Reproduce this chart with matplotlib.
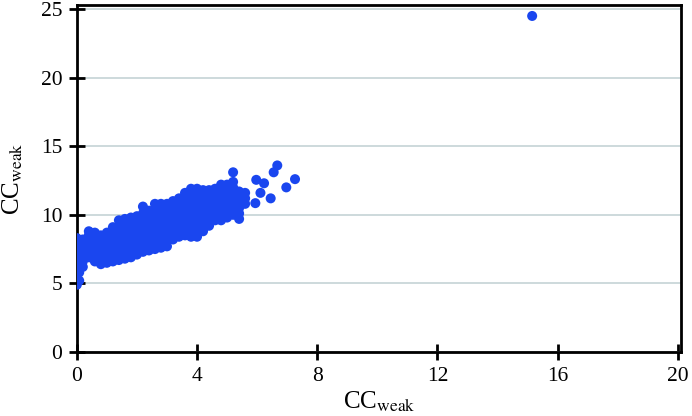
import matplotlib
matplotlib.use("Agg")
import matplotlib.pyplot as plt

# column x positions and the y values read in each column of the dense cloud
col_x = [0.0, 0.08, 0.2, 0.4, 0.6, 0.8, 1.0, 1.2, 1.4, 1.6, 1.8, 2.0, 2.2, 2.4, 2.6,
         2.8, 3.0, 3.2, 3.4, 3.6, 3.8, 4.0, 4.2, 4.4, 4.6, 4.8, 5.0, 5.2, 5.4, 5.6]
col_y = [
    [4.9, 5.3, 5.7, 6.1, 6.5, 6.9, 7.3, 7.7, 8.1, 8.3],
    [5.2, 5.8, 6.3, 6.8, 7.2, 7.6, 8.0],
    [6.2, 6.6, 7.0, 7.4, 7.8, 8.2],
    [6.9, 7.3, 7.7, 8.1, 8.5, 8.8],
    [6.6, 7.0, 7.4, 7.8, 8.2, 8.7],
    [6.4, 6.8, 7.2, 7.6, 8.0, 8.5],
    [6.5, 6.9, 7.3, 7.7, 8.1, 8.5, 8.7],
    [6.6, 7.0, 7.4, 7.8, 8.2, 8.6, 9.1],
    [6.7, 7.1, 7.5, 7.9, 8.3, 8.7, 9.1, 9.6],
    [6.8, 7.2, 7.6, 8.0, 8.4, 8.8, 9.2, 9.7],
    [6.9, 7.3, 7.7, 8.1, 8.5, 8.9, 9.3, 9.8],
    [7.1, 7.5, 7.9, 8.3, 8.7, 9.1, 9.5, 9.9],
    [7.3, 7.7, 8.1, 8.5, 8.9, 9.3, 9.7, 10.1, 10.6],
    [7.4, 7.8, 8.2, 8.6, 9.0, 9.4, 9.8, 10.3],
    [7.5, 7.9, 8.3, 8.7, 9.1, 9.5, 9.9, 10.3, 10.8],
    [7.6, 8.0, 8.4, 8.8, 9.2, 9.6, 10.0, 10.4, 10.8],
    [7.7, 8.1, 8.5, 8.9, 9.3, 9.7, 10.1, 10.5, 10.8],
    [8.2, 8.6, 9.0, 9.4, 9.8, 10.2, 10.6, 11.0],
    [8.4, 8.8, 9.2, 9.6, 10.0, 10.4, 10.8, 11.2],
    [8.5, 8.9, 9.3, 9.7, 10.1, 10.5, 10.9, 11.3, 11.6],
    [8.4, 8.8, 9.2, 9.6, 10.0, 10.4, 10.8, 11.2, 11.6, 11.9],
    [8.4, 8.8, 9.2, 9.6, 10.0, 10.4, 10.8, 11.2, 11.6, 11.9],
    [8.8, 9.2, 9.6, 10.0, 10.4, 10.8, 11.2, 11.6, 11.8],
    [9.2, 9.6, 10.0, 10.4, 10.8, 11.2, 11.6, 11.8],
    [9.6, 10.0, 10.4, 10.8, 11.2, 11.6, 11.9],
    [9.6, 10.0, 10.4, 10.8, 11.2, 11.6, 12.0, 12.2],
    [9.8, 10.2, 10.6, 11.0, 11.4, 11.8, 12.2],
    [10.0, 10.4, 10.8, 11.2, 11.6, 12.0, 12.4, 13.1],
    [9.7, 10.1, 10.5, 10.9, 11.3, 11.7],
    [10.8, 11.2, 11.6],
]

# scattered points away from the cloud
out_x = [5.97, 6.23, 6.11, 6.45, 5.94, 6.55, 6.67, 6.97, 7.26, 15.15]
out_y = [12.55, 12.3, 11.6, 11.2, 10.85, 13.1, 13.6, 12.0, 12.6, 24.5]

xs, ys = [], []
for x, col in zip(col_x, col_y):
    for y in col:
        xs.append(x)
        ys.append(y)
xs += out_x
ys += out_y

plt.rcParams['font.family'] = ['Liberation Serif', 'DejaVu Serif']
plt.rcParams['mathtext.fontset'] = 'stix'

fig = plt.figure(figsize=(6.92, 4.16), dpi=100)
ax = fig.add_axes([0.111, 0.154, 0.873, 0.834])

ax.scatter(xs, ys, s=52, color='#1a46ef', edgecolors='none', zorder=3)

ax.set_xlim(0, 20.1)
ax.set_ylim(0, 25.3)
ax.set_xticks([0, 4, 8, 12, 16, 20])
ax.set_yticks([0, 5, 10, 15, 20, 25])
ax.yaxis.grid(True, color='#c5d3d6', linewidth=1.2)
ax.set_axisbelow(True)

for sp in ax.spines.values():
    sp.set_linewidth(2)
ax.tick_params(direction='inout', length=11, width=2, labelsize=15.5, pad=5)

ax.set_xlabel(r'CC$_{\mathrm{weak}}$', fontsize=18, labelpad=3)
ax.set_ylabel(r'CC$_{\mathrm{weak}}$', fontsize=18, labelpad=11)

fig.savefig('out.png', dpi=100)
